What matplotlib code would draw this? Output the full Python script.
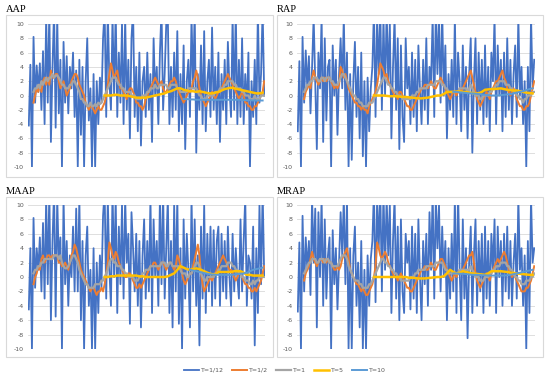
import numpy as np
import matplotlib
matplotlib.use("Agg")
import matplotlib.pyplot as plt
from matplotlib.patches import Rectangle

plt.rcParams["axes.unicode_minus"] = False

# series labels and colours
labels = ["T=1/12", "T=1/2", "T=1", "T=5", "T=10"]
colors = ["#4472C4", "#ED7D31", "#A5A5A5", "#FFC000", "#5B9BD5"]

# ---------------- AAP ----------------
aap_t12 = [
    -4.2, 4.3, -10, 8.2, -1, 4.2, 0.5, 4.5, -2, 6.2, -4, 11, -1, 12, -6.5,
    4, 12, -4.5, 11, -2.5, 5, -10, 7.5, -1, 5.5, -2.5, 4, 1, 6, -3,
    3.5, -10, 5, -5.5, 4, -10, 2, 8, -3.5, 1, -10, 3, -10, 2, -4,
    2.5, -1, 8, 12, -3, 12, 2, -2, 11, 0, 12, -3, 6, -1, 10,
    -4, 11, -2, 5, -6, 8, 12, -3, 4, -5, 6, -7, 2, 4, -3,
    6, -2, 3, -6.5, 8, 0, 4, -4, 6, 12, -2, 3, 10, 11, -4,
    4, -3, 6, -2, 9, -5, 3, -4, 7, -7.5, 2, 5, -3, 11, 1,
    12, -8, 3, -2, 7, -4, 9, -5, 2, 5, -3, 9.5, -2, 4, -4,
    6, -6.5, 3, -2, 5, -4, 7.5, 1, -3, 11, -2, 12, -4, 5, -3,
    8, -4, 3, -2, 6, -10, 2, -3, 5, -4, 12, -1, 3, 12, 0,
]
aap_t2 = [
    -1, 0, 1, 0.5, 1.5, 0.5, 2, 2.5, 1.5, 2.5, 1.5, 3.5, 2.5, 2.5, 3,
    3, 2, 1, 1.5, 2, 1, 0, 0.5, 1, 2, 2.5, 3, 3, 2.5, 1.5,
    1, 0.5, 0, -1, -1.5, -2, -1.5, -1.5, -2, -2.5, -2, -1.5, -2, -2, -1.5,
    -1, 0, 1.5, 3, 4.5, 3.5, 2.5, 3, 3.5, 2, 1, 1, 0.5, 0, -0.5,
    0.5, 1, 1, 0.5, 0, -1, -1, -1.5, -1.5, -2, -1.5, -0.5, 0, 0.5, 1,
    1.5, 2, 2.5, 2, 1.5, 1.5, 2, 1, 0.5, 0.5, 1, 1.5, 2, 2, 2.5,
    2, 1, 0.5, 0, -0.5, -1, -0.5, 0, 0.5, 0.5, 1, 2, 2.5, 3.5, 2.5,
    1, 0, -0.5, -1, -1.5, -1, -0.5, 0, 0.5, 0, -0.5, 0, 0.5, 0.5, 1,
    1.5, 2, 2.5, 3, 2.5, 2, 1.5, 1, 0.5, 0, -0.5, 0, 0.5, 0, -1,
    -1, -1.5, -1.5, -2, -2, -1.5, -1.5, -1, -0.5, 0, 0.5, 2,
]
aap_t1 = [
    0.5, 1, 1, 1.5, 1, 2, 1.5, 2, 2.5, 2, 2.5, 2.5, 3, 2.5, 2.8,
    2.8, 2.5, 2, 1.5, 1.5, 1, 1, 1, 1.5, 1.5, 2, 2, 1.5, 1, 0.5,
    -0.5, -0.5, -1, -1, -1.5, -1.5, -1, -1.5, -1.5, -1.2, -1.5, -1, -1.2, -1, -0.5,
    0, 0.5, 1, 1.5, 2, 2.5, 2.5, 2.5, 2, 1.5, 1.5, 1, 1, 0.5, 0.5,
    0.5, 0.5, 0, 0, 0, -0.5, -0.5, -0.5, -0.5, 0, 0, 0, 0.5, 0.5, 1,
    1, 1, 1.5, 1, 1, 1.5, 1.5, 1.5, 1.5, 1.5, 1, 1, 1.5, 1.5, 1.5,
    1.5, 1, 1, 0.5, 0.5, 0.5, 0.5, 0.5, 1, 1, 1, 1, 1, 1, 0.5,
    0, 0, -0.5, -0.5, -0.5, 0, 0, 0, 0, 0, 0.5, 0.5, 0.5, 1, 1,
    1, 1.5, 1.5, 2, 2, 2, 2, 1.5, 1.5, 1, 1, 1, 0.5, 0.5, 0,
    0, 0, -0.5, -0.5, -0.5, 0, -0.5, -0.5, -0.5, 0, 0, 0,
]
aap_t5 = [
    0, 0, 0, 0.1, 0.1, 0, 0, 0, -0.1, -0.2, -0.3, -0.3, -0.3, -0.3, -0.2,
    -0.1, 0, 0.1, 0.2, 0.3, 0.5, 0.6, 0.8, 1.0, 1.0, 0.8, 0.7, 0.6, 0.6, 0.5,
    0.6, 0.5, 0.4, 0.3, 0.3, 0.4, 0.5, 0.7, 0.9, 1.0, 1.1, 1.0, 0.9, 0.8, 0.7,
    0.6, 0.5, 0.4, 0.3, 0.3, 0.4,
]
aap_t10 = [
    -0.5, -0.5, -0.55, -0.55, -0.6, -0.6, -0.6, -0.6, -0.6, -0.6, -0.6, -0.6, -0.6,
    -0.6, -0.6, -0.6, -0.6, -0.6, -0.6, -0.65, -0.65, -0.65, -0.7, -0.7, -0.7, -0.7,
]

# ---------------- RAP ----------------
rap_t12 = [
    -5, 4.8, -10, 8.2, -1, 6.3, 1, 5.5, -2.5, 4, 11, 2, -7.5, 6, 1,
    11, -6.5, 8, -3.5, 4, 5, -10, 7, 0, 5, -5.5, 3, 8, 1, 11,
    -2, 6, -10, 3, -9, 2, 7.5, -3, 4, -6, 6, -8.5, 2, -10, 2.5,
    -5, 1, 4, 12, -3, 11, 3, 12, -2, 11, 0, 12, 2, 10, -6,
    4, 11, -2, 8, -7.5, 7, -3, -6.5, 8, 1, 4, -4, 6, -3, 5,
    -5, 7, 1, -4, 5, -2, 8, -4, 4, 2, 11, -3, 12, 3, 11,
    -1, 12, 0, 7, -6, 3, -2, 5, -3, 11, -4, 6, 2, -5, 7,
    -2, 4, -6, 3, 8, -8, 2, 8, -4, 6, -2, 5, -4, 7, -3,
    4, -5, 6, 2, 11, -4, 7, 0, 5, -5, 6, -3, 8, -2, 5,
    -4, 3, 7, -3, 11, 0, 4, -4, 2, -10, 4, -5, 11, 1, 5,
]
rap_t2 = [
    -0.5, 0.5, 1, 1.5, 1, 2.5, 3.5, 2.5, 2, 1.5, 2, 2.5, 2, 2.5, 2,
    2.5, 2.5, 2, 1.5, 1, 1.5, 1, 1.5, 4, 3.5, 2.5, 3, 2, 1, 0.5,
    0, -0.5, -1, -1, -1.5, -1.5, -2, -1.5, -2, -2, -2.5, -1.5, -1, -0.5, 0,
    0.5, 1.5, 3, 4.5, 4, 3.5, 2.5, 3, 2, 1.5, 1, 0.5, 0, 0, -0.5,
    0.5, 0.5, 0, -0.5, -1, -1.5, -1.5, -2, -2, -1.5, -1, -0.5, 0, 0.5, 1,
    1, 1.5, 1.5, 1, 1.5, 2, 1.5, 1, 1, 1.5, 2, 2.5, 2, 1.5, 1,
    0.5, 0, -0.5, 0, 0.5, 0.5, 0, 0.5, 1, 0.5, 1, 1.5, 2, 2.5, 3,
    3.5, 2.5, 1.5, 0.5, -0.5, -1, -1.5, -1, -0.5, 0, 0.5, 0, -0.5, 0.5, 1,
    1.5, 2, 2, 2.5, 3, 3.5, 2.5, 2, 1, 0.5, 0, 0.5, 1, 0.5, -0.5,
    -1, -1.5, -1.5, -2, -2, -1.5, -1.5, -1, 0, 1, 2,
]
rap_t1 = [
    0.5, 1, 1.5, 1.5, 2, 2, 2.5, 2.5, 2.5, 2, 2, 2.5, 2.5, 2, 2.5,
    2.5, 2.5, 2, 2, 1.5, 1.5, 1.5, 2, 2.5, 3, 3, 2.5, 2, 1.5, 1,
    0.5, 0, 0, -0.5, -0.5, -1, -1, -1.5, -1.5, -1.5, -1.5, -1, -1, -1, -0.5,
    0, 0.5, 1, 1.5, 2, 2.5, 2.5, 2, 1.5, 1.5, 1, 1, 0.5, 0.5, 0,
    0, 0, -0.5, -0.5, -0.5, -0.5, -0.5, -0.5, 0, 0, 0, 0.5, 0.5, 1, 1,
    1, 1, 1, 1.5, 1.5, 1.5, 1.5, 1.5, 2, 2, 2, 2, 1.5, 1.5, 1,
    1, 0.5, 0.5, 0.5, 0.5, 0.5, 0.5, 0.5, 1, 1, 1, 1, 1, 0.5, 1,
    1.5, 1, 0.5, 0, 0, 0, -0.5, -0.5, 0, 0, 0, 0, 0.5, 0.5, 1,
    1, 1.5, 1.5, 2, 2, 2, 2, 1.5, 1.5, 1.5, 1, 1, 0.5, 0.5, 0,
    0, -0.5, -0.5, -1, -0.5, -0.5, 0, 0, 0, 0.5, 0.5,
]
rap_t5 = [
    0, 0, 0, 0, -0.05, -0.1, -0.1, -0.1, -0.15, -0.2, -0.2, -0.25, -0.3, -0.35, -0.4,
    -0.4, -0.35, -0.3, -0.2, -0.1, 0, 0, 0.2, 0.5, 0.5, 0.5, 0.55, 0.6, 0.5, 0.5,
    0.4, 0.35, 0.3, 0.3, 0.5, 0.8, 0.85, 0.9, 0.9, 0.95, 1.0, 0.9, 0.8, 0.75, 0.7,
    0.7, 0.6, 0.5, 0.4, 0.35, 0.3,
]
rap_t10 = [
    0.5, 0.5, 0.45, 0.4, 0.35, 0.3, 0.3, 0.25, 0.2, 0.15, 0.1, 0.05, 0,
    0, 0, 0.05, 0.1, 0.15, 0.2, 0.3, 0.4, 0.5, 0.6, 0.75, 0.9, 1.0,
]

# ---------------- MAAP ----------------
maap_t12 = [
    -4.5, 4, -10, 8.2, -1.5, 4, 1, 5.5, -2, 7.5, -3, 11, -1, 12, -6,
    5, 12, -5.5, 11, 2, 5.5, -10, 11, -1, 5, -4, 3, 0, 7, -2,
    9.5, -2, 11, -6, 5, -10, 3, 7, -4, 1, -10, 4, -10, 2, -5,
    3, -1.5, 8.5, 12, -3, 11, 1, -4, 12, 0, 11, -5, 7, -1, 10,
    -3, 11, 2, 6, -6.5, 9, 4, -2, 6, -4, 5, -7, 3, 8, -3,
    5, -2, 11, -5, 8, 0, 5, -4, 11, -1, 12, -3, 4, 11, -5,
    5, -7, 10, -2, 11, -6.5, 4, -10, 8, -3, 6, 1, -7, 11, -2,
    8, -4, 3, -9.5, 7, -3, 10, -5, 6, -2, 7, -4, 6.5, -3, 5,
    7, -4, 6, -2, 5, -3, 7, 0, -4, 6, -2, 4, 0, -3, 8,
    -2, 5, 11, -4, 3, 2, -3, 7, -9.5, 4, -5, 10, -1, 12, 0,
]
maap_t2 = [
    -1, 0, 0.5, 1.5, 1, 2.5, 3, 2, 2.5, 3, 3, 2.5, 3, 3, 3,
    3, 2, 2, 1.5, 1.5, 2, 1.5, 1, 2, 3, 3.5, 4.5, 4, 3, 2,
    1, 0.5, 0, -0.5, -1, -1.5, -2, -1.5, -1.5, -2, -2.5, -2, -2, -1.5, -2,
    -1, 0.5, 2, 4.8, 4, 3, 2.5, 3.5, 3, 2, 1.5, 1, 0.5, 0, 0,
    0.5, 0.5, 0, -0.5, -1, -1.5, -1.5, -1, -1.5, -1, -0.5, 0, 0.5, 1, 1.5,
    1.5, 2, 2, 1.5, 1, 1.5, 2, 2, 1.5, 1, 1.5, 2, 2, 1.5, 1,
    1.5, 3, 2.5, 1.5, 0.5, -0.5, -1, -0.5, 0, 0.5, 0.5, 1.5, 2.5, 3.5, 4.5,
    3, 0.5, -1, -2, -1.5, -1, -0.5, 0, -0.5, 0, 0.5, 1, 1.5, 2, 2.5,
    3, 2.5, 2, 1.5, 1, 1, 0.5, 0, -0.5, 0, 0.5, 0.5, 0, -0.5, -1,
    -1, -1.5, -1.5, -2, -2, -1.5, -2, -1.5, -1, -0.5, 0.5, 1.5,
]
maap_t1 = [
    0.5, 1, 1, 1.5, 1.5, 2, 2, 2.5, 2.5, 2.5, 2.5, 2.5, 2.5, 3, 3,
    3, 2.5, 3, 2, 1.5, 1.2, 1.2, 1.5, 2, 2.5, 3, 3, 2.5, 2, 1,
    0.5, 0, -0.5, -1, -1, -1.5, -1.5, -1.5, -1.5, -1, -1, -1, -1, -0.5, -0.5,
    0, 0.5, 1, 2, 2.5, 2.5, 2, 2, 1.5, 1.5, 1.5, 1, 1, 0.5, 0.5,
    0, 0, 0, 0, -0.5, -0.5, -0.5, 0, 0, 0.5, 0.5, 1, 1, 1, 1.5,
    1.5, 1.5, 1.5, 1.5, 1.5, 1.5, 2, 2, 2, 1.5, 1.5, 2, 2, 1.5, 1.5,
    1.5, 1.5, 1.5, 1, 0.5, 0.5, 0.5, 0, 0, 0.5, 0.5, 1, 1.5, 2, 2,
    1.5, 0.5, 0, -0.5, -0.5, 0, 0, 0, 0, 0, 0.5, 0.5, 1, 1, 1.5,
    1.5, 1.5, 1.5, 2, 2, 2, 1.5, 1.5, 1, 1, 0.5, 0.5, 0, 0, -0.5,
    -0.5, -0.5, -1, -1, -0.5, -1, -0.5, -0.5, 0, 0, 0, 0,
]
maap_t5 = [
    0, 0, 0.1, 0.1, 0.2, 0.2, 0.2, 0.2, 0.2, 0.2, 0.2, 0.1, 0.1, 0, 0,
    0, 0, 0, 0, 0, 0.1, 0.3, 0.5, 1.0, 1.5, 1.3, 1.1, 1.0, 1.1, 1.2,
    1.1, 0.9, 0.7, 0.5, 0.4, 0.3, 0.7, 0.7, 0.7, 0.7, 0.7, 0.8, 0.8, 0.8, 0.6,
    0.3, 0.3, 0.2, 0.2, 0.2, 0.2,
]
maap_t10 = [
    1.0, 0.9, 0.8, 0.7, 0.6, 0.5, 0.4, 0.35, 0.3, 0.3, 0.3, 0.3,
    0.3, 0.3, 0.35, 0.4, 0.45, 0.5, 0.6, 0.8, 1.0, 1.1, 1.2, 1.3,
]

# ---------------- MRAP ----------------
mrap_t12 = [
    -4.8, 4.8, -10, 8.5, -2, 5.5, 1, 5, -2.5, 11, 2, 9.5, -7, 9, 0,
    11, -4, 8, -3, 3, 5.5, -10, 6.5, -1, 4, -4.5, 2, 9, 3, 11,
    -1, 11, -10, 4, -10, 3, 7, -4, 2, -7, 5, -10, 1, -10, 3,
    -4, 2.5, 5, 12, -3.5, 11, 4, 12, -2, 12, 1, 11, 3, 10, -5,
    5, 11, -3, 7, -6, 8, -2, -5, 6, 2, 5, -4.5, 7, -3, 6,
    -5, 8, 0, -6, 5, -1, 6, -4, 9, 1, 12, -3, 11, 4, 10,
    -2, 7, 0, 5, -6, 4, -3, 6, -2, 11, -5, 12, 1, -6, 8,
    -3, 4, -8.5, 2, 7, -5, 3, 8, -4, 5, -2, 6, -5, 7, -3,
    5, -4, 6, 1, 8, -5, 7, 0, 5, -4, 6, -2, 7, -3, 5,
    -4, 2, 6, -3, 11, 1, 4, -4, 3, -10, 5, -5, 11, 2, 4,
]
mrap_t2 = [
    -0.5, 0.5, 1, 1.5, 2.5, 3.5, 2.5, 2, 1.5, 2, 2.5, 2.5, 2, 2.5, 2,
    2.5, 2, 2, 1.5, 1, 1, 1.5, 1, 1.5, 2.5, 3, 3.5, 4, 2.5, 1,
    0.5, 0, -0.5, -1, -1, -1.5, -2, -1.5, -2, -2.5, -2.5, -2, -1.5, -1, 0,
    1.5, 4.8, 4, 3, 2.5, 3, 3.5, 3, 2, 1.5, 1, 0.5, 0, 0, -0.5,
    0, 0.5, 0, -0.5, -1, -1.5, -1.5, -2, -2, -1.5, -1, -0.5, 0, 0.5, 1,
    1, 1.5, 1, 1, 1.5, 2, 1.5, 1, 1, 1.5, 2, 2.5, 2.5, 2, 1.5,
    1, 0.5, 0, -0.5, 0, 0.5, 0, 0.5, 1, 0.5, 1, 1.5, 2, 2.5, 3,
    3, 3.5, 2, 0.5, -0.5, -1, -1.5, -1, -0.5, 0, 0.5, 0, -0.5, 0.5, 1,
    1.5, 2, 2.5, 2, 2.5, 3, 3.5, 3, 2, 1, 0.5, 0, 0.5, 0, -0.5,
    -1, -1.5, -2, -2, -2, -1.5, -1.5, -1, -0.5, 0.5, 1.5,
]
mrap_t1 = [
    0.5, 1, 1.5, 2, 2, 2.5, 2.5, 2.5, 2, 2, 2.5, 2.5, 2.5, 2, 2.5,
    2.5, 2, 2, 1.5, 1.5, 1.5, 1.5, 2, 2.5, 3, 3, 3, 2.5, 1.5, 1,
    0.5, 0, -0.5, -0.5, -0.5, -1, -1, -1.5, -1.5, -1.5, -1.5, -1, -1, -0.5, 0,
    0.5, 1, 1.5, 2, 2.5, 2.5, 2, 2, 1.5, 1.5, 1, 1, 0.5, 0.5, 0,
    0, -0.5, -0.5, -0.5, -0.5, -0.5, -0.5, 0, 0, 0, 0.5, 0.5, 1, 1, 1,
    1, 1, 1.5, 1.5, 1.5, 1.5, 1.5, 1.5, 2, 2, 2, 2, 2, 1.5, 1,
    1, 0.5, 0.5, 0.5, 0.5, 0.5, 0.5, 0.5, 1, 1, 1, 1, 1, 1, 1,
    1.5, 1, 0.5, 0, 0, 0, -0.5, -0.5, -0.5, 0, 0, 0, 0.5, 0.5, 1,
    1, 1.5, 1.5, 1.5, 2, 2, 2, 2, 1.5, 1.5, 1, 1, 0.5, 0, 0,
    -0.5, -0.5, -1, -1, -1, -0.5, -0.5, -0.5, 0, 0, 0.5,
]
mrap_t5 = [
    0, 0, 0, 0, 0, 0, 0, 0, 0, 0, 0, -0.1, -0.1, -0.15, -0.2,
    -0.2, -0.2, -0.15, -0.1, -0.05, 0, 0, 0.1, 0.5, 1.0, 0.7, 0.5, 0.6, 0.8, 0.7,
    0.6, 0.5, 0.45, 0.4, 0.35, 0.3, 0.5, 0.8, 0.8, 0.8, 0.8, 0.75, 0.7, 0.6, 0.55,
    0.5, 0.45, 0.4, 0.35, 0.3, 0.3,
]
mrap_t10 = [
    0.5, 0.5, 0.45, 0.45, 0.4, 0.35, 0.3, 0.3, 0.3, 0.25, 0.25, 0.2, 0.2,
    0.2, 0.2, 0.2, 0.2, 0.25, 0.3, 0.4, 0.5, 0.6, 0.7, 0.8, 0.9, 1.0,
]

# first period of each series (longer windows start later)
panels = [
    ("AAP", [aap_t12, aap_t2, aap_t1, aap_t5, aap_t10], [0, 3, 3, 48, 98]),
    ("RAP", [rap_t12, rap_t2, rap_t1, rap_t5, rap_t10], [0, 4, 4, 48, 98]),
    ("MAAP", [maap_t12, maap_t2, maap_t1, maap_t5, maap_t10], [0, 3, 3, 48, 102]),
    ("MRAP", [mrap_t12, mrap_t2, mrap_t1, mrap_t5, mrap_t10], [0, 4, 4, 48, 98]),
]
steps = [1, 1, 1, 2, 2]
widths = [1.3, 1.4, 1.6, 1.8, 1.4]

W, H = 550, 378
fig = plt.figure(figsize=(W / 100, H / 100), dpi=100)

# pixel boxes: (plot left, right, top, bottom), (frame left, right, top, bottom)
layout = [
    ((28, 265, 24, 167), (6, 273, 15, 177)),
    ((297, 535, 24, 167), (277, 543, 15, 177)),
    ((28, 265, 205, 349), (6, 273, 197, 357)),
    ((297, 535, 205, 349), (277, 543, 197, 357)),
]

handles = None
for (title, series, starts), (pbox, fbox) in zip(panels, layout):
    l, r, t, b = fbox
    fig.patches.append(Rectangle((l / W, 1 - b / H), (r - l) / W, (b - t) / H,
                                 transform=fig.transFigure, fill=False,
                                 edgecolor="#d9d9d9", linewidth=0.8))
    fig.text(l / W, 1 - (t - 6) / H, title, family="Liberation Serif",
             fontsize=7.5, va="center", ha="left")
    pl, pr, pt, pb = pbox
    ax = fig.add_axes([pl / W, 1 - pb / H, (pr - pl) / W, (pb - pt) / H])
    lines = []
    for vals, s0, st, c, lw, lab in zip(series, starts, steps, colors, widths, labels):
        x = s0 + st * np.arange(len(vals))
        ln, = ax.plot(x, vals, color=c, lw=lw, label=lab, solid_joinstyle="round")
        lines.append(ln)
    if handles is None:
        handles = lines
    ax.set_xlim(-0.5, 149.5)
    ax.set_ylim(-10, 10)
    ax.set_yticks(np.arange(-10, 11, 2))
    ax.set_xticks([])
    ax.grid(axis="y", color="#d9d9d9", lw=0.6)
    ax.set_axisbelow(True)
    for sp in ax.spines.values():
        sp.set_visible(False)
    ax.tick_params(axis="y", length=0, labelsize=4.5, labelcolor="#595959", pad=3)

fig.legend(handles, labels, loc="center", bbox_to_anchor=(285 / W, 1 - 370 / H),
           ncol=5, frameon=False, fontsize=4.5, labelcolor="#595959",
           handlelength=2.4, handletextpad=0.3, columnspacing=1.3)

fig.savefig("out.png", dpi=100)
